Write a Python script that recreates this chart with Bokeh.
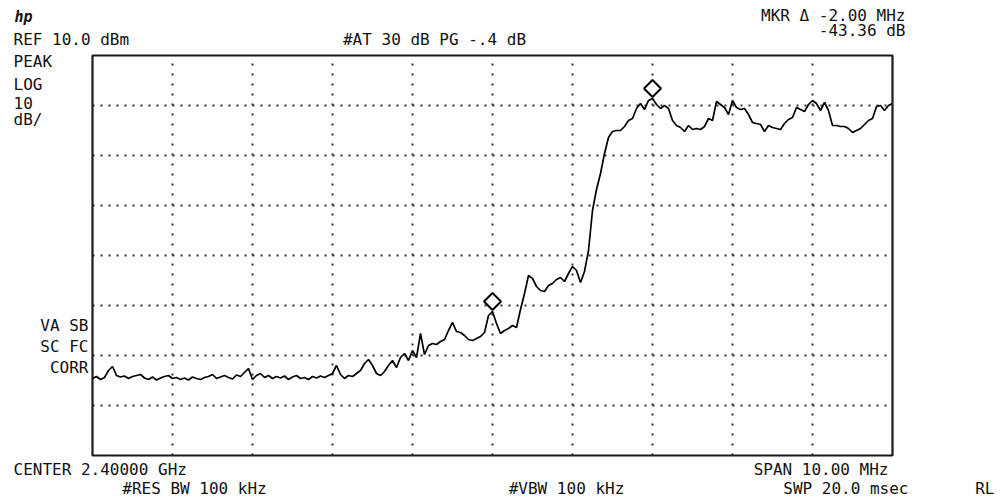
import numpy as np
from bokeh.plotting import figure
from bokeh.models import Label
from bokeh.embed import file_html
from bokeh.resources import INLINE

# ---------------- data ----------------
START_MHZ = 2395.0
STOP_MHZ = 2405.0
REF_LEVEL_DBM = 10.0
BOTTOM_LEVEL_DBM = -70.0

# trace level (dBm), 201 sweep points from 2395 to 2405 MHz
level_dbm = [
    -54.6, -54.2, -54.8, -54.4, -53.0, -52.2, -54.0, -54.3, -54.1, -54.6,
    -54.2, -54.0, -53.8, -54.5, -54.8, -54.3, -54.9, -54.5, -54.2, -54.0,
    -54.6, -54.4, -54.8, -54.5, -54.9, -54.3, -54.6, -54.8, -54.4, -54.2,
    -53.8, -54.6, -54.3, -54.0, -54.4, -54.7, -53.9, -54.2, -53.4, -52.6,
    -54.8, -54.0, -53.6, -54.4, -54.0, -54.6, -54.2, -54.5, -54.1, -54.8,
    -54.3, -54.0, -54.6, -54.4, -54.8, -54.2, -54.5, -54.1, -54.4, -54.0,
    -53.6, -52.0, -53.8, -54.6, -54.0, -54.2, -53.6, -53.0, -51.6, -50.8,
    -52.0, -53.6, -54.0, -53.2, -52.0, -51.0, -52.4, -50.4, -49.6, -51.0,
    -49.0, -50.4, -45.6, -49.8, -48.0, -47.6, -47.8, -47.2, -46.8, -45.0,
    -43.4, -45.2, -45.4, -46.0, -46.8, -47.0, -46.6, -46.2, -45.4, -42.0,
    -41.2, -43.6, -45.6, -45.0, -44.6, -44.0, -44.4, -40.8, -37.6, -34.0,
    -34.6, -36.2, -37.0, -37.2, -36.0, -35.6, -34.8, -34.4, -35.2, -33.6,
    -32.2, -33.0, -35.4, -33.2, -29.0, -21.0, -16.8, -13.6, -9.6, -6.4,
    -5.2, -5.0, -5.0, -4.2, -3.0, -2.6, -0.6, 0.4, -0.8, 1.0,
    1.4, 0.2, -0.6, 0.0, -0.6, -3.0, -4.0, -4.4, -5.2, -4.0,
    -4.8, -4.6, -4.8, -4.2, -2.6, -3.0, 0.8, 0.2, -0.4, -1.8,
    1.0, -0.4, -0.8, -0.6, -1.8, -3.4, -3.6, -3.8, -5.2, -4.0,
    -4.4, -4.6, -4.8, -3.6, -2.8, -2.4, -0.4, -0.8, -1.2, 0.2,
    1.0, 0.4, -1.0, 0.6, -1.0, -4.0, -4.0, -4.2, -4.2, -4.6,
    -5.4, -5.0, -4.6, -3.8, -3.0, -2.6, -0.2, 0.0, -1.0, 0.0,
    0.4,
]
freq_mhz = np.linspace(START_MHZ, STOP_MHZ, len(level_dbm))

# markers (reference marker and delta marker)
marker_freq_mhz = [2402.0, 2400.0]

# graticule
x_grid_mhz = [2396, 2397, 2398, 2399, 2400, 2401, 2402, 2403, 2404]
y_grid_dbm = [-60, -50, -40, -30, -20, -10, 0]

# annotation texts
logo_text = "hp"
ref_text = "REF 10.0 dBm"
atten_text = "#AT 30 dB PG -.4 dB"
mkr_freq_text = "MKR Δ -2.00 MHz"
mkr_level_text = "-43.36 dB"
left_top_texts = ["PEAK", "LOG", "10", "dB/"]
left_bottom_texts = ["VA SB", "SC FC", "CORR"]
center_text = "CENTER 2.40000 GHz"
rbw_text = "#RES BW 100 kHz"
vbw_text = "#VBW 100 kHz"
span_text = "SPAN 10.00 MHz"
swp_text = "SWP 20.0 msec"
rl_text = "RL"

# ---------------- figure ----------------
W, H = 1000, 500
FRAME_LEFT_PX, FRAME_TOP_PX = 92, 55
PX_PER_MHZ, PX_PER_DB = 80.0, 5.0

x0 = START_MHZ - FRAME_LEFT_PX / PX_PER_MHZ
x1 = x0 + W / PX_PER_MHZ
y1 = REF_LEVEL_DBM + FRAME_TOP_PX / PX_PER_DB
y0 = y1 - H / PX_PER_DB

p = figure(width=W, height=H, x_range=(x0, x1), y_range=(y0, y1),
           output_backend="svg", toolbar_location=None,
           min_border_left=0, min_border_right=0,
           min_border_top=0, min_border_bottom=0)
p.xaxis.visible = False
p.yaxis.visible = False
p.grid.visible = False
p.background_fill_color = "white"
p.border_fill_color = "white"
p.outline_line_color = None

GRID_COLOR = "#333333"
# vertical graticule lines
p.segment(x0=x_grid_mhz, x1=x_grid_mhz,
          y0=[BOTTOM_LEVEL_DBM] * len(x_grid_mhz), y1=[REF_LEVEL_DBM] * len(x_grid_mhz),
          line_color=GRID_COLOR, line_width=2, line_dash="2 8")
# horizontal graticule lines
p.segment(x0=[START_MHZ] * len(y_grid_dbm), x1=[STOP_MHZ] * len(y_grid_dbm),
          y0=y_grid_dbm, y1=y_grid_dbm,
          line_color=GRID_COLOR, line_width=2, line_dash="2 6")

p.line(freq_mhz, level_dbm, line_color="black", line_width=1.7)

# graticule frame
p.quad(left=[START_MHZ], right=[STOP_MHZ], bottom=[BOTTOM_LEVEL_DBM], top=[REF_LEVEL_DBM],
       fill_color=None, line_color="#1a1a1a", line_width=2.2)

step = (STOP_MHZ - START_MHZ) / (len(level_dbm) - 1)
mk_levels = [level_dbm[int(round((f - START_MHZ) / step))] for f in marker_freq_mhz]
mk_y = [v + 2.0 for v in mk_levels]
p.scatter(marker_freq_mhz, mk_y, marker="square", size=12, angle=np.pi / 4,
          fill_color="white", line_color="black", line_width=2)

FONT = "DejaVu Sans Mono"
FS = "16px"


def add_text(txt, px, py, align="left", size=FS, style="normal"):
    p.add_layout(Label(x=px, y=H - py,
                       x_units="screen", y_units="screen", text=txt,
                       text_align=align, text_baseline="middle",
                       text_font=FONT, text_font_size=size,
                       text_font_style=style, text_color="#111111"))


add_text(logo_text, 14, 16, size="15px", style="bold italic")
add_text(ref_text, 13, 39)
add_text(atten_text, 434, 39, align="center")
add_text(mkr_freq_text, 905, 15, align="right")
add_text(mkr_level_text, 905, 30, align="right")
for t, yy in zip(left_top_texts, [61, 84, 102, 119]):
    add_text(t, 13, yy)
for t, yy in zip(left_bottom_texts, [325, 346, 367]):
    add_text(t, 88, yy, align="right")
add_text(center_text, 13, 469)
add_text(rbw_text, 194, 488, align="center")
add_text(vbw_text, 566, 488, align="center")
add_text(span_text, 888, 469, align="right")
add_text(swp_text, 908, 488, align="right")
add_text(rl_text, 994, 488, align="right")

open("out.html", "w").write(file_html(p, INLINE))
